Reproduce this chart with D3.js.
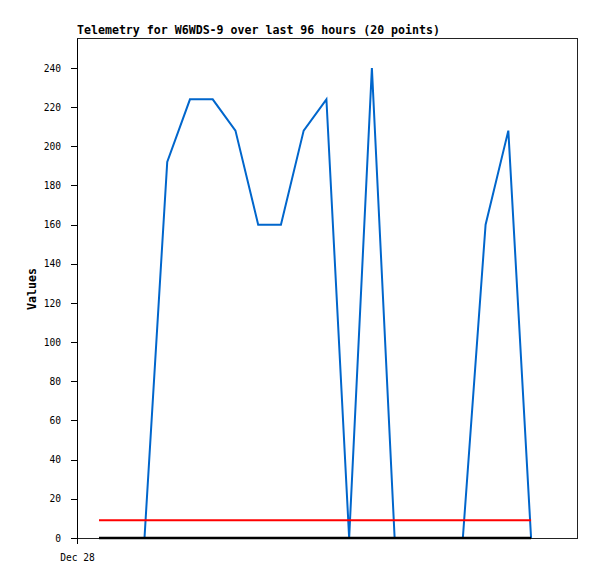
<!DOCTYPE html>
<html><head><meta charset="utf-8">
<script src="https://cdn.jsdelivr.net/npm/d3@7"></script>
<style>body{margin:0;background:#fff}svg{display:block}</style>
</head><body>
<script>
const title = "Telemetry for W6WDS-9 over last 96 hours (20 points)";
const yLabel = "Values";
const pointIndex = d3.range(20);
const blueValues = [0,0,0,192,224,224,208,160,160,208,224,0,240,0,0,0,0,160,208,0];
const redValues = Array(20).fill(9);
const blackValues = Array(20).fill(0);
const yTicks = [0,20,40,60,80,100,120,140,160,180,200,220,240];
const xTickPos = [-0.968];
const xTickLabels = ["Dec 28"];

(function(){
const W = 597, H = 579;
const svg = d3.select("body").append("svg").attr("width", W).attr("height", H);
const pL = 77, pR = 577, pT = 38, pB = 538;
const x = d3.scaleLinear().domain([-0.968, 21.02]).range([pL, pR]);
const y = d3.scaleLinear().domain([0, 255.3]).range([pB, pT]);

// frame
svg.append("path").attr("d", `M${pL},${pT}H${pR}V${pB}H${pL}`)
  .attr("fill","none").attr("stroke","#222").attr("stroke-width",1).attr("shape-rendering","crispEdges");

// y axis
const ya = svg.append("g").attr("transform",`translate(${pL},0)`)
  .call(d3.axisLeft(y).tickValues(yTicks).tickSize(6).tickPadding(10).tickSizeOuter(0));
ya.select(".domain").attr("stroke","#000").attr("shape-rendering","crispEdges");
ya.selectAll(".tick line").attr("stroke","#000").attr("shape-rendering","crispEdges");
ya.selectAll("text").attr("font-family","DejaVu Sans Mono").attr("font-size","9.6px").attr("fill","#000");

// x axis
const xa = svg.append("g").attr("transform",`translate(0,${pB})`)
  .call(d3.axisBottom(x).tickValues(xTickPos).tickFormat((d,i)=>xTickLabels[i]).tickSize(6).tickPadding(10).tickSizeOuter(0));
xa.select(".domain").remove();
xa.selectAll(".tick line").attr("stroke","#000").attr("shape-rendering","crispEdges");
xa.selectAll("text").attr("font-family","DejaVu Sans Mono").attr("font-size","9.6px").attr("fill","#000");

const line = d3.line().x((d,i)=>x(pointIndex[i])).y(d=>y(d));
svg.append("path").datum(blueValues).attr("d",line).attr("fill","none").attr("stroke","#0066cc").attr("stroke-width",2);
svg.append("path").datum(redValues).attr("d",line).attr("fill","none").attr("stroke","#ff0000").attr("stroke-width",2);
svg.append("path").datum(blackValues).attr("d",line).attr("fill","none").attr("stroke","#000").attr("stroke-width",2.5);

svg.append("text").attr("x",pL).attr("y",34).text(title)
  .attr("font-family","DejaVu Sans Mono").attr("font-weight","bold").attr("font-size","11.6px");
svg.append("text").attr("transform",`translate(36,289) rotate(-90)`).attr("text-anchor","middle").text(yLabel)
  .attr("font-family","DejaVu Sans Mono").attr("font-weight","bold").attr("font-size","11.6px");
})();
</script>
</body></html>
